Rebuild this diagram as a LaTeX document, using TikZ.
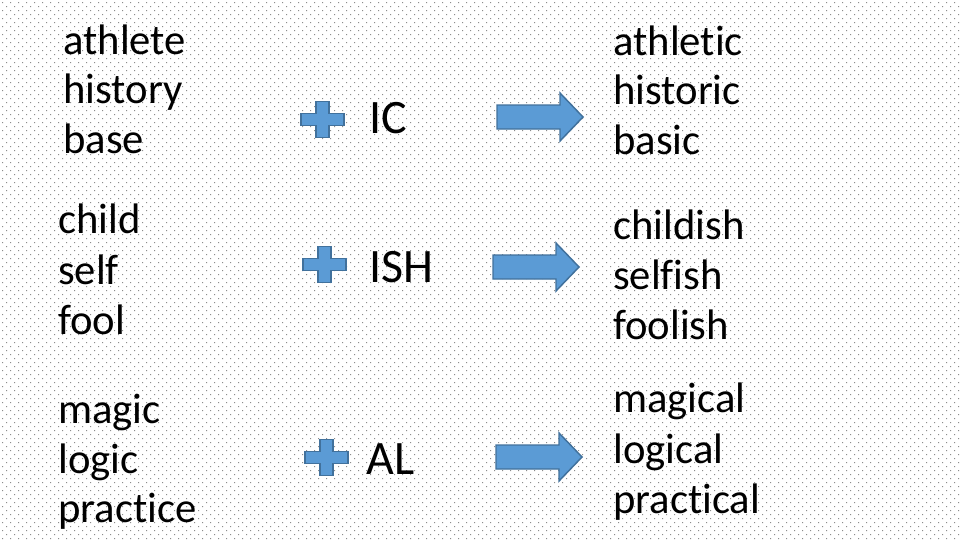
\documentclass[tikz,border=0pt]{standalone}
\usepackage{fontspec}
\setmainfont{Carlito}[RawFeature={-liga;-clig;-dlig}]

\definecolor{shapefill}{HTML}{5B9BD5}
\definecolor{shapeline}{HTML}{41719C}
\definecolor{dotgray}{HTML}{8C8C8C}

\tikzset{
  word/.style = {anchor=base west, inner sep=0pt, font=\fontsize{32}{38}\selectfont},
  suffix/.style = {anchor=base west, inner sep=0pt, font=\fontsize{36}{43}\selectfont},
  blockshape/.style = {fill=shapefill, draw=shapeline, line width=1.1pt, line join=miter},
  plusmark/.pic = {
    \draw[blockshape] (-6.5,-18) -- (6.5,-18) -- (6.5,-6) -- (21.5,-6) -- (21.5,6)
      -- (6.5,6) -- (6.5,18) -- (-6.5,18) -- (-6.5,6) -- (-21.5,6) -- (-21.5,-6)
      -- (-6.5,-6) -- cycle;
  },
  arrowmark/.pic = {
    \draw[blockshape] (-86,-12) -- (-23,-12) -- (-23,-24) -- (0,0) -- (-23,24)
      -- (-23,12) -- (-86,12) -- cycle;
  }
}

\begin{document}
\begin{tikzpicture}[x=0.75pt, y=-0.75pt]
  % slide background with dotted texture
  \useasboundingbox (0,0) rectangle (960,540);
  \fill[white] (0,0) rectangle (960,540);
  \foreach \j in {0,...,67} {
    \fill[dotgray] \foreach \i in {0,...,119} {
      (8*\i+2,8*\j+2) rectangle ++(1.2,1.2)
      (8*\i+6,8*\j+6) rectangle ++(1.2,1.2)
    };
  }

  % base words
  \node[word] (athlete) at (63,54) {athlete};
  \node[word] (history) at (63,103) {history};
  \node[word] (base) at (63,153) {base};

  \node[word] (child) at (58,233) {child};
  \node[word] (self) at (58,284) {self};
  \node[word] (fool) at (58,334) {fool};

  \node[word] (magic) at (58,423) {magic};
  \node[word] (logic) at (58,473) {logic};
  \node[word] (practice) at (58,522) {practice};

  % suffixes
  \pic at (322.5,119.5) {plusmark};
  \node[suffix] (ic) at (369,133) {IC};
  \pic at (324.5,264.5) {plusmark};
  \node[suffix] (ish) at (369,282) {ISH};
  \pic at (326.5,457.5) {plusmark};
  \node[suffix] (al) at (366,474) {AL};

  % results
  \pic at (583,117) {arrowmark};
  \pic at (579,267) {arrowmark};
  \pic at (582,457) {arrowmark};

  \node[word] (athletic) at (613,55) {athletic};
  \node[word] (historic) at (613,104) {historic};
  \node[word] (basic) at (613,154) {basic};

  \node[word] (childish) at (613,239) {childish};
  \node[word] (selfish) at (613,289) {selfish};
  \node[word] (foolish) at (613,339) {foolish};

  \node[word] (magical) at (613,412) {magical};
  \node[word] (logical) at (613,463) {logical};
  \node[word] (practical) at (613,513) {practical};
\end{tikzpicture}
\end{document}
